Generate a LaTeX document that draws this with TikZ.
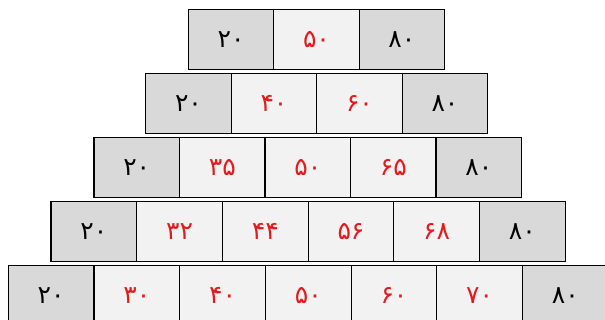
\documentclass[tikz,border=0pt]{standalone}
\usepackage{fontspec}
\newfontfamily\fa{DejaVu Sans}
\definecolor{endgray}{HTML}{D9D9D9}
\definecolor{midgray}{HTML}{F2F2F2}
\definecolor{numred}{HTML}{E3191B}
\begin{document}
\begin{tikzpicture}[x=1pt,y=-1pt,
  cell/.style={draw=black,line width=1.1pt,minimum width=85.5pt,minimum height=60pt,
    inner sep=0pt,outer sep=0pt,anchor=north west,font=\fa\fontsize{25}{28}\selectfont},
  endcell/.style={cell,fill=endgray,text=black},
  midcell/.style={cell,fill=midgray,text=numred}]
\useasboundingbox (0,0) rectangle (605,320);
\clip (0,0) rectangle (605,320);
% row 1
\node[endcell,minimum width=85.3pt] (a1) at (188.5,9.3) {۲۰};
\node[midcell,minimum width=85.3pt] (a2) at (a1.north east) {۵۰};
\node[endcell,minimum width=85.3pt] (a3) at (a2.north east) {۸۰};
% row 2
\node[endcell] (b1) at (145.7,73.3) {۲۰};
\node[midcell] (b2) at (b1.north east) {۴۰};
\node[midcell] (b3) at (b2.north east) {۶۰};
\node[endcell] (b4) at (b3.north east) {۸۰};
% row 3
\node[endcell] (c1) at (94,137.3) {۲۰};
\node[midcell] (c2) at (c1.north east) {۳۵};
\node[midcell] (c3) at (c2.north east) {۵۰};
\node[midcell] (c4) at (c3.north east) {۶۵};
\node[endcell] (c5) at (c4.north east) {۸۰};
% row 4
\node[endcell,minimum width=85.7pt] (d1) at (51,201.3) {۲۰};
\node[midcell,minimum width=85.7pt] (d2) at (d1.north east) {۳۲};
\node[midcell,minimum width=85.7pt] (d3) at (d2.north east) {۴۴};
\node[midcell,minimum width=85.7pt] (d4) at (d3.north east) {۵۶};
\node[midcell,minimum width=85.7pt] (d5) at (d4.north east) {۶۸};
\node[endcell,minimum width=85.7pt] (d6) at (d5.north east) {۸۰};
% row 5
\node[endcell,minimum width=85.7pt] (e1) at (8.3,265.2) {۲۰};
\node[midcell,minimum width=85.7pt] (e2) at (e1.north east) {۳۰};
\node[midcell,minimum width=85.7pt] (e3) at (e2.north east) {۴۰};
\node[midcell,minimum width=85.7pt] (e4) at (e3.north east) {۵۰};
\node[midcell,minimum width=85.7pt] (e5) at (e4.north east) {۶۰};
\node[midcell,minimum width=85.7pt] (e6) at (e5.north east) {۷۰};
\node[endcell,minimum width=85.7pt] (e7) at (e6.north east) {۸۰};
\end{tikzpicture}
\end{document}
